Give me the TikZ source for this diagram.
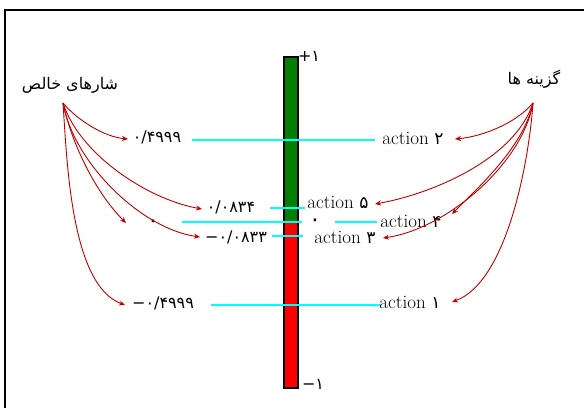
\documentclass[tikz,border=0pt]{standalone}
\usepackage{fontspec}
\newfontfamily\arabicfont[Script=Arabic]{DejaVu Sans}
\TeXXeTstate=1
\usetikzlibrary{arrows.meta}
\definecolor{arrred}{RGB}{192,0,0}
\definecolor{barred}{RGB}{255,0,0}
\definecolor{bargreen}{RGB}{0,128,0}
\definecolor{lcyan}{RGB}{0,255,255}
\newcommand{\fad}[1]{{\arabicfont\fontsize{17}{20}\selectfont #1}}
\begin{document}
\begin{tikzpicture}[x=1pt,y=1pt,
 fa/.style={font=\arabicfont\fontsize{16}{19}\selectfont, inner sep=0.5pt},
 zero/.style={font=\arabicfont\fontsize{22}{24}\selectfont, inner sep=0pt, text height=7pt, text depth=0pt},
 act/.style={font=\fontsize{19}{22}\selectfont, inner sep=0.5pt, text height=13pt, text depth=0.5pt},
 arr/.style={draw=arrred, line width=0.9pt, -{Stealth[length=6pt,width=5pt]}, looseness=0.8},
 cl/.style={draw=lcyan, line width=1.5pt}]
\useasboundingbox (0,0) rectangle (584,408);
% frame
\draw[line width=1.6pt] (5,0) -- (5,398) -- (584,398);
% bar
\fill[bargreen] (284,186) rectangle (298,351);
\fill[barred] (284,20) rectangle (298,186);
\draw[line width=1.3pt] (284,20) rectangle (298,351);
\node[fa] (top) at (309,352) {\hbox{+}\hbox{۱}};
\node[fa] (bot) at (313,24) {\hbox{−}\hbox{۱}};
% headings
\node[fa] (lt) at (70,323) {\beginR شارهای خالص\endR};
\node[fa] (rt) at (534,329) {\beginR گزینه ها\endR};
\coordinate (lo) at (63,305);
\coordinate (ro) at (533,305);
% values
\node[fa] (v1) at (157,271) {\hbox{۰/۴۹۹۹}};
\node[fa] (v5) at (231,201) {\hbox{۰/۰۸۳۴}};
\node[zero] (v0) at (153,184) {۰};
\node[fa] (v3) at (236,171) {\hbox{−}\hbox{۰/۰۸۳۳}};
\node[fa] (vm) at (163,105) {\hbox{−}\hbox{۰/۴۹۹۹}};
\node[zero] (z) at (315,185) {۰};
% actions
\node[act] (a2) at (413,270) {action \fad{۲}};
\node[act] (a5) at (338,206) {action \fad{۵}};
\node[act] (a4) at (411,187) {action \fad{۴}};
\node[act] (a3) at (345,171) {action \fad{۳}};
\node[act] (a1) at (410,106) {action \fad{۱}};
% cyan lines
\draw[cl] (192,268) -- (375,268);
\draw[cl] (270,200) -- (305,200);
\draw[cl] (182,186) -- (302,186);
\draw[cl] (335,186) -- (377,186);
\draw[cl] (272,172) -- (303,172);
\draw[cl] (211,103) -- (380,103);
% arrow targets
\coordinate (L1) at (128,269);
\coordinate (L2) at (202,199);
\coordinate (L3) at (126,185);
\coordinate (L4) at (200,171);
\coordinate (L5) at (125,103);
\coordinate (R1) at (455,269);
\coordinate (R2) at (375,204);
\coordinate (R3) at (452,194);
\coordinate (R4) at (383,170);
\coordinate (R5) at (452,106);
% left arrows
\draw[arr] (lo) to[out=-50,in=175] (L1);
\draw[arr] (lo) to[out=-72,in=170] (L2);
\draw[arr] (lo) to[out=-78,in=135] (L3);
\draw[arr] (lo) to[out=-80,in=172] (L4);
\draw[arr] (lo) to[out=-86,in=160,looseness=0.7] (L5);
% right arrows
\draw[arr] (ro) to[out=-130,in=5] (R1);
\draw[arr] (ro) to[out=-108,in=10] (R2);
\draw[arr] (ro) to[out=-102,in=45] (R3);
\draw[arr] (ro) to[out=-100,in=8] (R4);
\draw[arr] (ro) to[out=-94,in=20,looseness=0.7] (R5);
\end{tikzpicture}
\end{document}
